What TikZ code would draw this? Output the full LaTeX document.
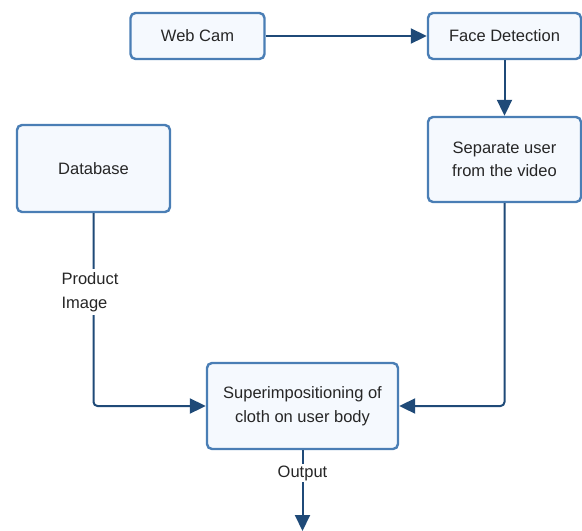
\documentclass[tikz,border=0pt]{standalone}
\usepackage{fontspec}
\setmainfont{Liberation Sans}
\usetikzlibrary{arrows.meta}
\definecolor{boxborder}{HTML}{4A7EB5}
\definecolor{boxfill}{HTML}{F5F9FE}
\definecolor{arrowcol}{HTML}{1F4A78}
\definecolor{txt}{HTML}{262626}
\begin{document}
\begin{tikzpicture}[x=1pt,y=-1pt,
  blockbox/.style={draw=boxborder, fill=boxfill, line width=2.4pt, rounded corners=5pt,
    align=center, text=txt, inner sep=2pt, font=\fontsize{16.5}{23.5}\selectfont},
  conn/.style={draw=arrowcol, line width=2pt, -{Triangle[length=16pt,width=15pt]}},
  lbl/.style={fill=white, text=txt, inner sep=2pt, font=\fontsize{16.5}{23.5}\selectfont}]
\useasboundingbox (0,0) rectangle (582,531);
\node[blockbox, minimum width=134pt, minimum height=46pt] (webcam) at (197.5,36) {Web Cam};
\node[blockbox, minimum width=153pt, minimum height=46pt] (face) at (504.5,36) {Face Detection};
\node[blockbox, minimum width=153pt, minimum height=85pt] (sep) at (504.5,159.5) {Separate user\\from the video};
\node[blockbox, minimum width=153pt, minimum height=87pt] (db) at (93.5,168.5) {Database};
\node[blockbox, minimum width=191pt, minimum height=86pt] (sup) at (302.5,406) {Superimpositioning of\\cloth on user body};
\coordinate (dbcorner) at (93.5,406);
\coordinate (sepcorner) at (504.5,406);
\coordinate (outend) at (302.5,531);
\draw[conn] (webcam.east) -- (face.west);
\draw[conn] (face.south) -- (sep.north);
\draw[conn, rounded corners=4pt] (db.south) -- (dbcorner) -- (sup.west);
\draw[conn, rounded corners=4pt] (sep.south) -- (sepcorner) -- (sup.east);
\draw[conn] (sup.south) -- (outend);
\node[lbl, align=left, inner ysep=4pt] (prodlbl) at (90,292) {Product\\Image};
\node[lbl] (outlbl) at (302.5,473) {Output};
\end{tikzpicture}
\end{document}
